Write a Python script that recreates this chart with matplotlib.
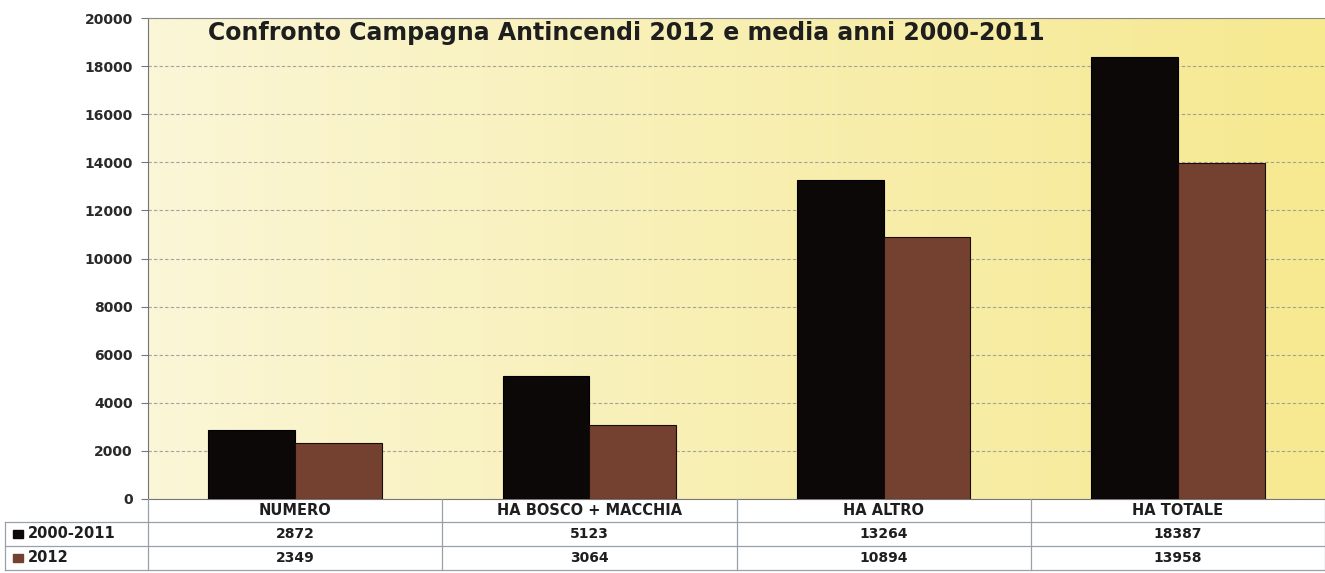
import matplotlib
matplotlib.use("Agg")
import matplotlib.pyplot as plt
import numpy as np
from matplotlib.colors import LinearSegmentedColormap
from matplotlib.transforms import blended_transform_factory
from matplotlib.lines import Line2D

# dati: media 2000-2011 contro campagna 2012
categorie = ["NUMERO", "HA BOSCO + MACCHIA", "HA ALTRO", "HA TOTALE"]
media_2000_2011 = [2872, 5123, 13264, 18387]
anno_2012 = [2349, 3064, 10894, 13958]
serie = ["2000-2011", "2012"]
titolo = "Confronto Campagna Antincendi 2012 e media anni 2000-2011"

col_nero = "#0b0807"
col_marrone = "#74402f"
font = "DejaVu Sans"
col_testo = "#1e1e1e"

fig = plt.figure(figsize=(13.25, 5.73), dpi=100)
fig.patch.set_facecolor("white")
ax = fig.add_axes([148 / 1325, 1 - 499 / 573, 1 - 148 / 1325, (499 - 18) / 573])

x = np.arange(len(categorie))
w = 0.295

# sfondo giallino sfumato
cmap = LinearSegmentedColormap.from_list("giallo", ["#fbf6d6", "#f8efb2", "#f6e990"])
grad = np.linspace(0, 1, 256).reshape(1, -1)
ax.imshow(grad, cmap=cmap, aspect="auto", extent=(-0.5, 3.5, 0, 20000), zorder=0)

ax.bar(x - w / 2, media_2000_2011, w, color=col_nero, edgecolor="#000000", linewidth=0.8, zorder=3)
ax.bar(x + w / 2, anno_2012, w, color=col_marrone, edgecolor="#1a0d08", linewidth=0.8, zorder=3)

ax.set_xlim(-0.5, 3.5)
ax.set_ylim(0, 20000)
ax.set_yticks(np.arange(0, 20001, 2000))
ax.set_xticks([])
ax.yaxis.grid(True, linestyle=(0, (3, 2)), color="#8a8f96", linewidth=0.8, alpha=0.8)
ax.set_axisbelow(True)
for lab in ax.get_yticklabels():
    lab.set_fontfamily(font)
    lab.set_fontweight("bold")
    lab.set_fontsize(10)
    lab.set_color("#2a2a2a")
ax.tick_params(axis="y", length=5, color="#777777", pad=6)
ax.spines["left"].set_color("#6d737a")
ax.spines["top"].set_color("#8a8a8a")
ax.spines["right"].set_visible(False)
ax.spines["bottom"].set_color("#777777")

ax.text(208 / 1325, 1 - 33 / 573, titolo, transform=fig.transFigure, fontsize=17,
        fontweight="bold", family=font, color=col_testo, va="center", ha="left")

# tabella sotto il grafico
tr = blended_transform_factory(ax.transData, fig.transFigure)
righe_y = [1 - 499 / 573, 1 - 522 / 573, 1 - 546 / 573, 1 - 570 / 573]
for yy in righe_y[1:]:
    fig.add_artist(Line2D([5 / 1325, 1], [yy, yy], transform=fig.transFigure,
                          color="#9aa0a8", linewidth=0.9))
for xb in np.arange(-0.5, 3.6, 1.0):
    fig.add_artist(Line2D([xb, xb], [righe_y[0], righe_y[-1]], transform=tr,
                          color="#9aa0a8", linewidth=0.9))
fig.add_artist(Line2D([5 / 1325, 5 / 1325], [righe_y[1], righe_y[-1]],
                      transform=fig.transFigure, color="#9aa0a8", linewidth=0.9))

for i, c in enumerate(categorie):
    fig.text(x[i], (righe_y[0] + righe_y[1]) / 2, c, transform=tr, ha="center", va="center",
             fontsize=10.5, fontweight="bold", family=font, color=col_testo)
    fig.text(x[i], (righe_y[1] + righe_y[2]) / 2, str(media_2000_2011[i]), transform=tr,
             ha="center", va="center", fontsize=10, fontweight="bold", family=font, color=col_testo)
    fig.text(x[i], (righe_y[2] + righe_y[3]) / 2, str(anno_2012[i]), transform=tr,
             ha="center", va="center", fontsize=10, fontweight="bold", family=font, color=col_testo)

for k, (nome, col) in enumerate(zip(serie, [col_nero, col_marrone])):
    yc = (righe_y[k + 1] + righe_y[k + 2]) / 2
    fig.add_artist(plt.Rectangle((13 / 1325, yc - 4 / 573), 10 / 1325, 8 / 573,
                                 transform=fig.transFigure, color=col))
    fig.text(28 / 1325, yc, nome, transform=fig.transFigure, ha="left", va="center",
             fontsize=10.5, fontweight="bold", family=font, color=col_testo)

fig.savefig("out.png", dpi=100)
